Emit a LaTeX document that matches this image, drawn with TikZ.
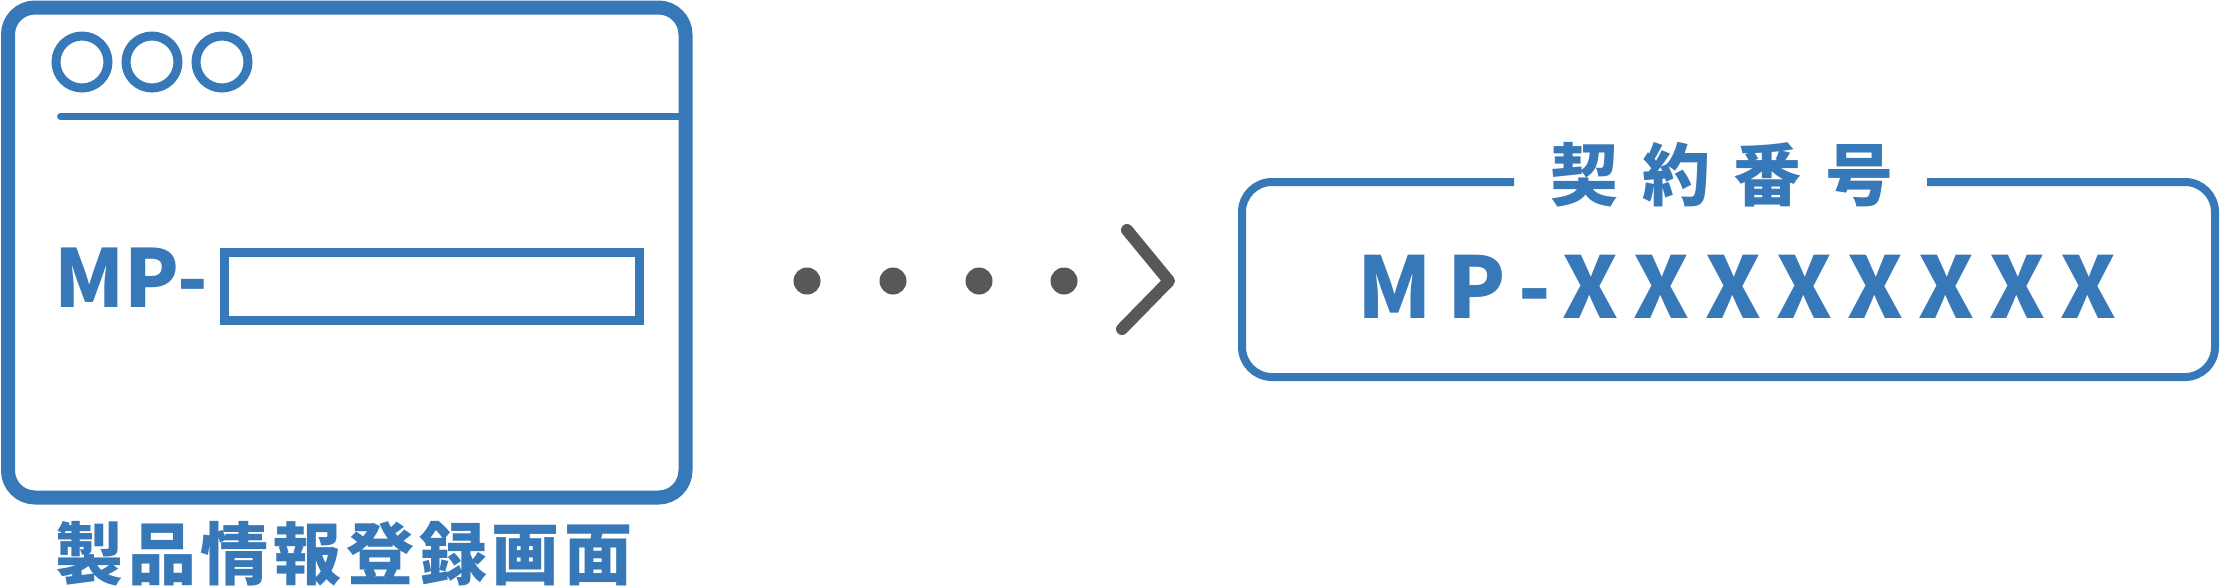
\documentclass[tikz,border=0pt]{standalone}
\usepackage{fontspec}
\newfontfamily\cjk{Noto Sans CJK JP}
\definecolor{mpblue}{HTML}{3778B9}
\definecolor{dotgray}{HTML}{595757}
\begin{document}
\begin{tikzpicture}[x=1pt,y=-1pt,
  bl/.style={draw=mpblue},
  txt/.style={inner sep=0pt, outer sep=0pt, text=mpblue},
  dotc/.style={fill=dotgray}]
\useasboundingbox (0,0) rectangle (2220,587);
% browser window
\draw[bl, line width=14pt, rounded corners=27pt] (8,7.5) rectangle (685.5,497.5);
\foreach \cx/\nm in {82/c1,152/c2,222/c3}
  \draw[bl, line width=9pt] (\cx,62) circle (26pt);
\coordinate (barL) at (60.5,116.5);
\coordinate (barR) at (685.5,116.5);
\draw[bl, line width=7pt, line cap=round] (barL) -- (barR);
\node[txt, anchor=base west, font=\cjk\bfseries\fontsize{80}{80}\selectfont] (mp) at (54,307) {MP-};
\draw[bl, line width=9pt] (224.5,252.5) rectangle (639.5,320.5);
\node[txt, anchor=base, font=\cjk\bfseries\fontsize{68}{68}\selectfont\addfontfeature{LetterSpace=7}] (wlabel) at (344,579) {製品情報登録画面};
% dots and chevron
\foreach \dx/\nm in {807/d1,893/d2,979/d3,1064/d4}
  \fill[dotc] (\dx,281) circle (13.5pt);
\coordinate (chT) at (1127,230);
\coordinate (chA) at (1169,281);
\coordinate (chB) at (1122,329);
\draw[draw=dotgray, line width=12pt, line cap=round, line join=round] (chT) -- (chA) -- (chB);
% result box
\draw[bl, line width=8pt, rounded corners=30pt] (1514,182) -- (1242,182) -- (1242,377) -- (2215,377) -- (2215,182) -- (1927,182);
\node[txt, anchor=base, font=\cjk\bfseries\fontsize{68}{68}\selectfont\addfontfeature{LetterSpace=35}] (clabel) at (1722,200) {契約番号};
\node[txt, anchor=base, font=\cjk\bfseries\fontsize{85}{85}\selectfont\addfontfeature{LetterSpace=18}] (num) at (1737,318) {MP-XXXXXXXX};
\end{tikzpicture}
\end{document}
